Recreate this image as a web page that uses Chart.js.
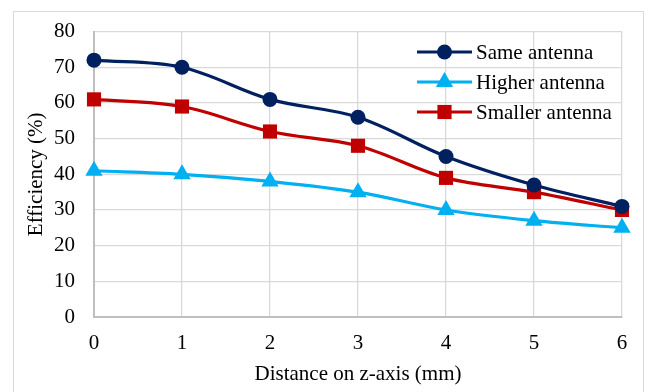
<!DOCTYPE html>
<html lang="en">
<head>
    <meta charset="UTF-8">
    <title>Efficiency vs distance</title>
    <script src="https://cdn.jsdelivr.net/npm/chart.js"></script>
    <style>
        html, body { margin: 0; padding: 0; background: #fff; }
        #chart { display: block; }
    </style>
</head>
<body>
    <canvas id="chart" width="656" height="392"></canvas>
    <script>
        // data
        const distances = ['0', '1', '2', '3', '4', '5', '6'];
        const sameAntenna = [72, 70, 61, 56, 45, 37, 31];
        const higherAntenna = [41, 40, 38, 35, 30, 27, 25];
        const smallerAntenna = [61, 59, 52, 48, 39, 35, 30];
        const yTicks = [0, 10, 20, 30, 40, 50, 60, 70, 80];

        const serif = "'Liberation Serif', 'Times New Roman', serif";
        Chart.defaults.font.family = serif;
        Chart.defaults.font.size = 21;
        Chart.defaults.color = '#000';

        function series(label, data, color, style, radius) {
            return {
                label: label,
                data: data,
                borderColor: color,
                backgroundColor: color,
                borderWidth: 3.2,
                pointStyle: style,
                pointRadius: radius,
                pointBorderWidth: 0,
                tension: 0.35,
                clip: false
            };
        }

        // outer frame
        const frame = {
            id: 'frame',
            beforeDraw(chart) {
                const ctx = chart.ctx;
                ctx.save();
                ctx.strokeStyle = '#d9d9d9';
                ctx.lineWidth = 1;
                ctx.strokeRect(13.5, 11.5, 630, 392);
                ctx.restore();
            }
        };

        // legend in Excel style: line with marker, then label
        const lineLegend = {
            id: 'lineLegend',
            afterDatasetsDraw(chart) {
                const ctx = chart.ctx;
                const x0 = 417, x1 = 472, tx = 476;
                const rows = [52, 82, 112];
                chart.data.datasets.forEach((ds, i) => {
                    const y = rows[i];
                    ctx.save();
                    ctx.strokeStyle = ds.borderColor;
                    ctx.lineWidth = 3.2;
                    ctx.beginPath();
                    ctx.moveTo(x0, y);
                    ctx.lineTo(x1, y);
                    ctx.stroke();
                    ctx.fillStyle = ds.backgroundColor;
                    Chart.helpers.drawPoint(ctx, {
                        pointStyle: ds.pointStyle,
                        radius: ds.pointRadius,
                        rotation: 0,
                        borderWidth: 0
                    }, (x0 + x1) / 2, y);
                    ctx.fillStyle = '#000';
                    ctx.font = '21px ' + serif;
                    ctx.textBaseline = 'middle';
                    ctx.fillText(ds.label, tx, y + 1);
                    ctx.restore();
                });
            }
        };

        new Chart(document.getElementById('chart'), {
            type: 'line',
            data: {
                labels: distances,
                datasets: [
                    series('Same antenna', sameAntenna, '#002060', 'circle', 7.5),
                    series('Higher antenna', higherAntenna, '#00B0F0', 'triangle', 10),
                    series('Smaller antenna', smallerAntenna, '#C00000', 'rect', 10)
                ]
            },
            options: {
                responsive: false,
                animation: false,
                layout: { padding: { left: 13, top: 31, right: 34, bottom: 0 } },
                plugins: {
                    legend: { display: false },
                    tooltip: { enabled: false }
                },
                scales: {
                    x: {
                        offset: false,
                        grid: { color: '#d9d9d9', lineWidth: 1.3, drawTicks: false },
                        border: { color: '#bfbfbf', width: 2 },
                        ticks: { padding: 14, maxRotation: 0 },
                        title: {
                            display: true,
                            text: 'Distance on z-axis (mm)',
                            padding: { top: 4, bottom: 5 }
                        },
                        afterFit(scale) { scale.height = 75; }
                    },
                    y: {
                        min: 0,
                        max: 80,
                        afterBuildTicks(scale) {
                            scale.ticks = yTicks.map(v => ({ value: v }));
                        },
                        grid: { color: '#d9d9d9', lineWidth: 1.3, drawTicks: false },
                        border: { color: '#bfbfbf', width: 2 },
                        ticks: { padding: 19 },
                        title: {
                            display: true,
                            text: 'Efficiency (%)',
                            padding: { top: 11, bottom: 0 }
                        },
                        afterFit(scale) { scale.width = 81; }
                    }
                }
            },
            plugins: [frame, lineLegend]
        });
    </script>
</body>
</html>
